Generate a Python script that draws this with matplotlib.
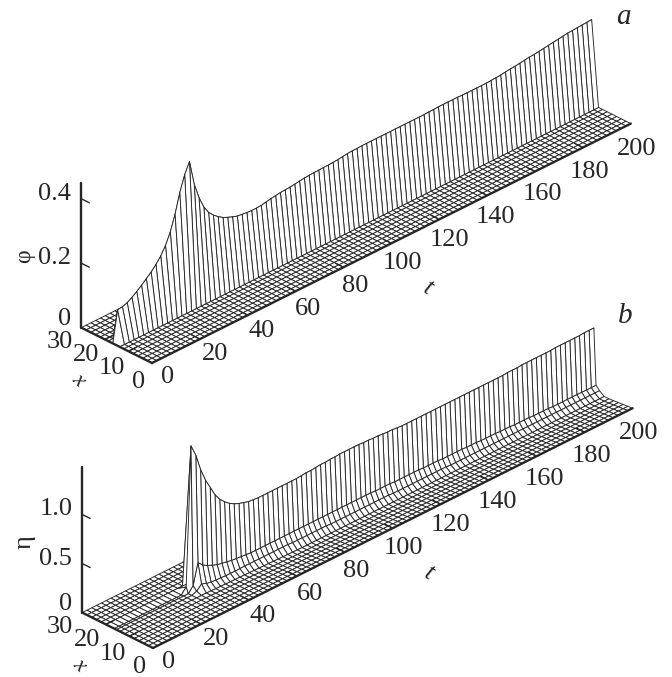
import matplotlib
matplotlib.use("Agg")
import matplotlib.pyplot as plt
import numpy as np
from mpl_toolkits.mplot3d import proj3d

plt.rcParams['font.family'] = ['Liberation Serif', 'DejaVu Serif']

W, H = 672, 677
INK = '#262626'

# ---------- data ----------
t_grid = list(range(0, 201, 2))
t_ticks = [0, 20, 40, 60, 80, 100, 120, 140, 160, 180, 200]
x_ticks = [0, 10, 20, 30]

# panel a: phi along the crest of the ridge, t = 0, 2, ..., 200
crest_a = [0, .097, .099, .104, .113, .124, .136, .149, .162, .178,
           .197, .222, .257, .305, .365, .412, .445, .367, .318, .282,
           .258, .242, .230, .220, .213, .207, .202, .200, .198, .197,
           .197, .198, .201, .204, .206, .208, .209, .210, .212, .214,
           .216, .217, .218, .218, .219, .219, .220, .221, .223, .225,
           .226, .226, .227, .227, .227, .227, .227, .227, .227, .227,
           .227, .227, .227, .227, .227, .227, .228, .228, .229, .229,
           .229, .229, .229, .228, .228, .228, .228, .228, .228, .229,
           .230, .231, .233, .235, .236, .238, .240, .242, .243, .245,
           .247, .249, .251, .253, .255, .257, .258, .259, .260, .261,
           .262]
rows_a = [0, 2, 4, 6, 8, 10, 12, 13.7, 16.6, 18.6, 20, 22, 24, 26, 28, 30]
crest_row_a = 8
z_ticks_a = [0, 0.2, 0.4]
z_labels_a = ['0', '0.2', '0.4']

# panel b: eta along the crest, the shoulder and the foot of the ridge
crest_b = ([0] * 15 + [.06, 1.47, 1.35, 1.18, 1.05,
           .95, .85, .78, .73, .69, .66, .64, .625, .61, .605]
           + [.60] * 9 + [.605,
           .61, .61, .615, .62, .62, .625, .625, .63, .63, .63,
           .63, .63, .625, .625, .62, .62, .615, .61, .61, .605]
           + [.60] * 20 + [
           .60, .60, .605, .605, .605, .61, .61, .61, .61, .61,
           .61, .61, .615, .615, .615, .615, .615, .615, .62, .62,
           .62])
shoulder_b = ([0] * 15 + [0, .06, .27, .22, .19,
              .17, .15, .14, .13, .12, .115, .11, .105, .10, .10]
              + [.10] * 20 + [
              .10, .10, .10, .10, .095, .095, .095, .095, .09, .09,
              .09, .09, .09, .09, .085, .085, .085, .085, .08, .08,
              .08, .08, .08, .075, .075, .075, .07, .07, .07, .07,
              .065, .065, .065, .06, .06, .06, .06, .055, .055, .055,
              .055, .05, .05, .05, .05, .05, .05, .05, .048, .048,
              .048])
foot_b = ([0] * 16 + [.02, .07, .05, .04,
          .035, .035, .03, .03, .03, .03, .03, .03, .03, .03]
          + [.03] * 6 + [.025] * 8 + [.02] * 13 + [.015] * 12 + [.01] * 32)
dip_b = ([0] * 18 + [.1, .15, .2, .25, .3, .35, .4, .45, .5, .55,
         .6, .65, .7, .75, .8, .85, .9, .95] + [1.0] * 65)
dip_rows_b = [0, -.005, -.01, -.015, -.02, -.025, -.025]
rows_b = [0, 2, 4, 6, 8, 10, 12, 14, 15.5, 16.4, 20, 22, 24, 26, 28, 30]
crest_row_b = 9
z_ticks_b = [0, 0.5, 1.0]
z_labels_b = ['0', '0.5', '1.0']


def z_a():
    Z = np.zeros((len(rows_a), len(t_grid)))
    Z[crest_row_a] = crest_a
    return Z


def z_b():
    Z = np.zeros((len(rows_b), len(t_grid)))
    for i, d in enumerate(dip_rows_b):
        Z[i] = d * np.array(dip_b)
    Z[7] = foot_b
    Z[8] = shoulder_b
    Z[9] = crest_b
    return Z


def to_pixels(ax, x, y, z):
    px, py, _ = proj3d.proj_transform(x, y, z, ax.get_proj())
    return ax.transData.transform((px, py))


def label(ax, x, y, z, s, **kw):
    # place a text at a point of the 3D box, as a plain 2D text
    px, py, _ = proj3d.proj_transform(x, y, z, ax.get_proj())
    kw.setdefault('ha', 'center')
    ax.text2D(px, py, s, transform=ax.transData, va='center', color=INK,
              zorder=6, clip_on=False, **kw)


def panel(fig, Z, rows, crest_row, zmax, z_ticks, z_labels, name, letter,
          front, end, zname_z, name_size, letter_xy):
    side = 640.0
    ax = fig.add_axes([0, 0, side / W, side / H], projection='3d',
                      computed_zorder=False, proj_type='ortho')
    ax.view_init(elev=30, azim=-135)
    ax.set_box_aspect((677, 100, 167.4), zoom=1.0)
    ax.set_xlim(0, 200, view_margin=0)
    ax.set_ylim(0, 30, view_margin=0)
    ax.set_zlim(0, zmax, view_margin=0)
    ax.set_xticks([])
    ax.set_yticks([])
    ax.set_zticks([])
    ax.set_axis_off()
    ax.patch.set_alpha(0)

    # fit the axes so that the t axis falls where the reference has it
    target_a = np.array([front[0], H - front[1]], float)
    target_b = np.array([end[0], H - end[1]], float)
    for _ in range(3):
        ax.apply_aspect()
        p0 = to_pixels(ax, 0, 0, 0)
        p1 = to_pixels(ax, 200, 0, 0)
        side *= np.linalg.norm(target_b - target_a) / np.linalg.norm(p1 - p0)
        ax.set_position([0, 0, side / W, side / H])
        ax.apply_aspect()
        p0 = to_pixels(ax, 0, 0, 0)
        pos = ax.get_position()
        d = target_a - p0
        ax.set_position([pos.x0 + d[0] / W, pos.y0 + d[1] / H, side / W, side / H])

    T, X = np.meshgrid(np.array(t_grid, float), np.array(rows, float))
    kw = dict(rstride=1, cstride=1, color='white', edgecolor=INK,
              linewidth=0.65, shade=False, antialiased=True)
    c = crest_row
    ax.plot_surface(T[c + 1:], X[c + 1:], Z[c + 1:], zorder=1, **kw)
    ax.plot_surface(T[c:c + 2], X[c:c + 2], Z[c:c + 2], zorder=2, **kw)
    ax.plot_surface(T[:c + 1], X[:c + 1], Z[:c + 1], zorder=3, **kw)

    axis_kw = dict(color=INK, solid_capstyle='round', zorder=5)
    ax.plot([0, 200], [0, 0], [0, 0], lw=1.7, **axis_kw)
    ax.plot([0, 0], [0, 30], [0, 0], lw=1.7, **axis_kw)
    ax.plot([0, 0], [30, 30], [0, zmax], lw=1.7, **axis_kw)

    for t in t_ticks:
        if 0 < t < 200:
            ax.plot([t, t], [0, 3.4], [0, 0], lw=1.0, **axis_kw)
        label(ax, t * 0.966 - 2.56, -(9.34 + 0.0128 * t), 0, str(t), fontsize=19)
    for x in x_ticks:
        if 0 < x < 30:
            ax.plot([0, 3.4], [x, x], [0, 0], lw=1.0, **axis_kw)
        label(ax, -10.6, x * 1.12 - 5.1, 0, str(x), fontsize=19)
    for zv, lab in zip(z_ticks, z_labels):
        if zv > 0:
            ax.plot([0, 0], [30, 26.6], [zv, zv], lw=1.0, **axis_kw)
        lift = zmax * 4 / 145 if zv == 0 else 0
        label(ax, 0, 34.2, zv + lift, lab, fontsize=19, ha='right')

    label(ax, 88.7, -26.8, 0, 't', fontsize=18, style='italic', rotation=-30)
    label(ax, -22.8, 8.2, 0, 'x', fontsize=16, style='italic', rotation=-45)
    label(ax, -12.0, 42.0, zname_z, name, fontsize=name_size, rotation=90)
    fig.text(letter_xy[0] / W, 1 - letter_xy[1] / H, letter, fontsize=21,
             style='italic', ha='center', va='center', color=INK)
    return ax


fig = plt.figure(figsize=(W / 100, H / 100), dpi=100)
panel(fig, z_a(), rows_a, crest_row_a, 0.45, z_ticks_a, z_labels_a, 'φ', 'a',
      (152, 363), (631, 124), 0.222, 17, (623, 17))
panel(fig, z_b(), rows_b, crest_row_b, 1.48, z_ticks_b, z_labels_b, 'η', 'b',
      (153, 648), (633, 409), 0.72, 19, (625, 316))
fig.savefig('out.png', dpi=100)
